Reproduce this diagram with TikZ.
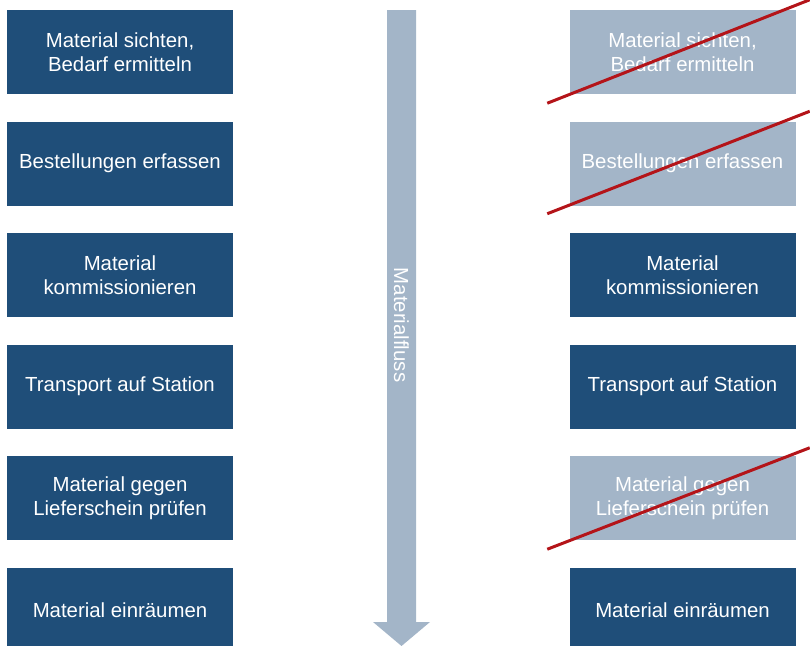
\documentclass[tikz,border=0pt]{standalone}
\usepackage{fontspec}
\setmainfont{Liberation Sans}
\definecolor{dunkelblau}{RGB}{31,78,121}
\definecolor{hellblau}{RGB}{163,181,200}
\definecolor{strichrot}{RGB}{180,20,25}
\tikzset{
  schritt/.style={fill=dunkelblau, text=white, minimum width=67.8mm, minimum height=25.2mm,
    inner sep=0pt, align=center, font=\fontsize{17.4}{20.5}\selectfont},
  weg/.style={schritt, fill=hellblau},
  streichen/.style={draw=strichrot, line width=0.9mm}
}
\begin{document}
\begin{tikzpicture}[x=0.3mm,y=-0.3mm]
    \useasboundingbox (0,0) rectangle (810,645);

    \fill[hellblau] (387,10) -- (416,10) -- (416,622) -- (430,622) -- (401.5,646) -- (373,622) -- (387,622) -- cycle;
    \node[text=white, rotate=-90, font=\fontsize{17.4}{20.5}\selectfont] (fluss) at (401.5,325) {Materialfluss};

    \node[schritt] (l1) at (120,52) {Material sichten,\\Bedarf ermitteln};
    \node[schritt] (l2) at (120,163.5) {Bestellungen erfassen};
    \node[schritt] (l3) at (120,275) {Material\\kommissionieren};
    \node[schritt] (l4) at (120,386.5) {Transport auf Station};
    \node[schritt] (l5) at (120,498) {Material gegen\\Lieferschein prüfen};
    \node[schritt] (l6) at (120,610) {Material einräumen};

    \node[weg] (r1) at (682.5,52) {Material sichten,\\Bedarf ermitteln};
    \node[weg] (r2) at (682.5,163.5) {Bestellungen erfassen};
    \node[schritt] (r3) at (682.5,275) {Material\\kommissionieren};
    \node[schritt] (r4) at (682.5,386.5) {Transport auf Station};
    \node[weg] (r5) at (682.5,498) {Material gegen\\Lieferschein prüfen};
    \node[schritt] (r6) at (682.5,610) {Material einräumen};

    \draw[streichen] ([shift={(-22,9)}]r1.south west) -- ([shift={(14,-10)}]r1.north east);
    \draw[streichen] ([shift={(-22,8)}]r2.south west) -- ([shift={(14,-10)}]r2.north east);
    \draw[streichen] ([shift={(-22,9)}]r5.south west) -- ([shift={(14,-8)}]r5.north east);
\end{tikzpicture}
\end{document}
